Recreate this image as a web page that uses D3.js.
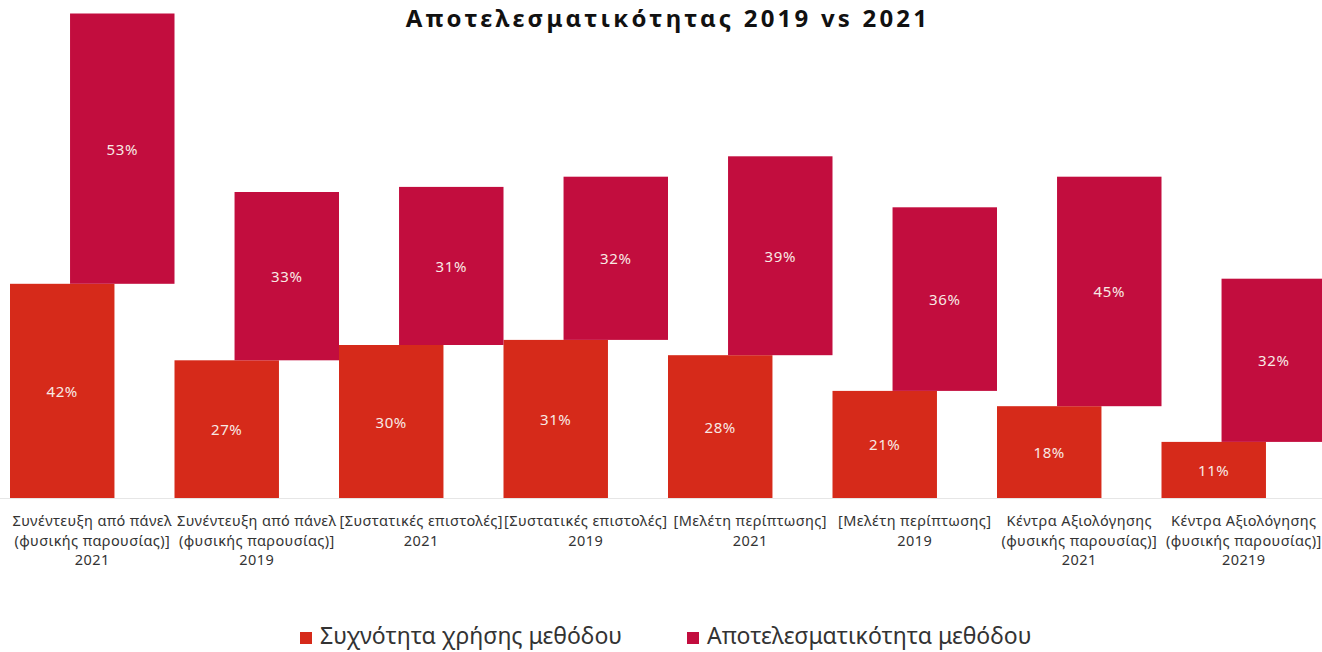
<!DOCTYPE html>
<html>
<head>
<meta charset="utf-8">
<script src="https://cdn.jsdelivr.net/npm/d3@7"></script>
<style>
  html, body { margin: 0; padding: 0; background: #ffffff; }
  svg { display: block; }
  text { font-family: "Noto Sans", "DejaVu Sans", sans-serif; }
</style>
</head>
<body>
<svg id="chart" width="1322" height="652"></svg>
<script>
// Categories (multi-line axis labels)
const categories = [
  ["Συνέντευξη από πάνελ", "(φυσικής παρουσίας)]", "2021"],
  ["Συνέντευξη από πάνελ", "(φυσικής παρουσίας)]", "2019"],
  ["[Συστατικές επιστολές]", "2021"],
  ["[Συστατικές επιστολές]", "2019"],
  ["[Μελέτη περίπτωσης]", "2021"],
  ["[Μελέτη περίπτωσης]", "2019"],
  ["Κέντρα Αξιολόγησης", "(φυσικής παρουσίας)]", "2021"],
  ["Κέντρα Αξιολόγησης", "(φυσικής παρουσίας)]", "20219"]
];

// Series values (%)
const frequency = [42, 27, 30, 31, 28, 21, 18, 11];      // Συχνότητα χρήσης μεθόδου
const effectiveness = [53, 33, 31, 32, 39, 36, 45, 32];  // Αποτελεσματικότητα μεθόδου

const seriesNames = ["Συχνότητα χρήσης μεθόδου", "Αποτελεσματικότητα μεθόδου"];
const seriesColors = ["#d62a1a", "#c20d3e"];

const titleText = "Αποτελεσματικότητας 2019 vs 2021";

const svg = d3.select("#chart");
const keys = categories.map((c, i) => i);

const x = d3.scaleBand().domain(keys).range([10, 1326]).padding(0);
const y = d3.scaleLinear().domain([0, 95]).range([498, 13.5]);

const bw = x.bandwidth();
const barW = bw * 0.635;
const shift = bw - barW;

// baseline
svg.append("line")
  .attr("x1", 0).attr("x2", 1322)
  .attr("y1", y(0) + 0.5).attr("y2", y(0) + 0.5)
  .attr("stroke", "#e6e6e6").attr("stroke-width", 1);

// frequency bars
const g1 = svg.append("g");
g1.selectAll("rect").data(frequency).join("rect")
  .attr("x", (d, i) => x(i))
  .attr("y", d => y(d))
  .attr("width", barW)
  .attr("height", d => y(0) - y(d))
  .attr("fill", seriesColors[0]);

// effectiveness bars stacked on top, shifted to the right
const g2 = svg.append("g");
g2.selectAll("rect").data(effectiveness).join("rect")
  .attr("x", (d, i) => x(i) + shift)
  .attr("y", (d, i) => y(frequency[i] + d))
  .attr("width", barW)
  .attr("height", (d, i) => y(frequency[i]) - y(frequency[i] + d))
  .attr("fill", seriesColors[1]);

// value labels
const lblStyle = sel => sel
  .attr("text-anchor", "middle")
  .attr("dominant-baseline", "central")
  .attr("font-size", 15)
  .attr("letter-spacing", 0.6)
  .attr("fill", "#f8e9e4");

g1.selectAll("text").data(frequency).join("text")
  .attr("x", (d, i) => x(i) + barW / 2)
  .attr("y", d => (y(0) + y(d)) / 2)
  .call(lblStyle)
  .text(d => d + "%");

g2.selectAll("text").data(effectiveness).join("text")
  .attr("x", (d, i) => x(i) + shift + barW / 2)
  .attr("y", (d, i) => (y(frequency[i]) + y(frequency[i] + d)) / 2)
  .call(lblStyle)
  .text(d => d + "%");

// category labels
const axisG = svg.append("g");
categories.forEach((lines, i) => {
  const t = axisG.append("text")
    .attr("x", x(i) + bw / 2)
    .attr("y", 526)
    .attr("text-anchor", "middle")
    .attr("font-size", 14.5)
    .attr("letter-spacing", 0.4)
    .attr("fill", "#333333");
  lines.forEach((ln, j) => {
    t.append("tspan")
      .attr("x", x(i) + bw / 2)
      .attr("dy", j === 0 ? 0 : 19.5)
      .text(ln);
  });
});

// title
svg.append("text")
  .attr("x", 668).attr("y", 27)
  .attr("text-anchor", "middle")
  .attr("font-size", 24)
  .attr("letter-spacing", 3.2)
  .attr("font-weight", "bold")
  .attr("fill", "#111111")
  .text(titleText);

// legend
const legendX = [300, 687];
const lg = svg.append("g");
seriesNames.forEach((name, i) => {
  lg.append("rect")
    .attr("x", legendX[i]).attr("y", 632)
    .attr("width", 12).attr("height", 12)
    .attr("fill", seriesColors[i]);
  lg.append("text")
    .attr("x", legendX[i] + 20).attr("y", 644)
    .attr("font-size", 23)
    .attr("fill", "#333333")
    .text(name);
});
</script>
</body>
</html>
